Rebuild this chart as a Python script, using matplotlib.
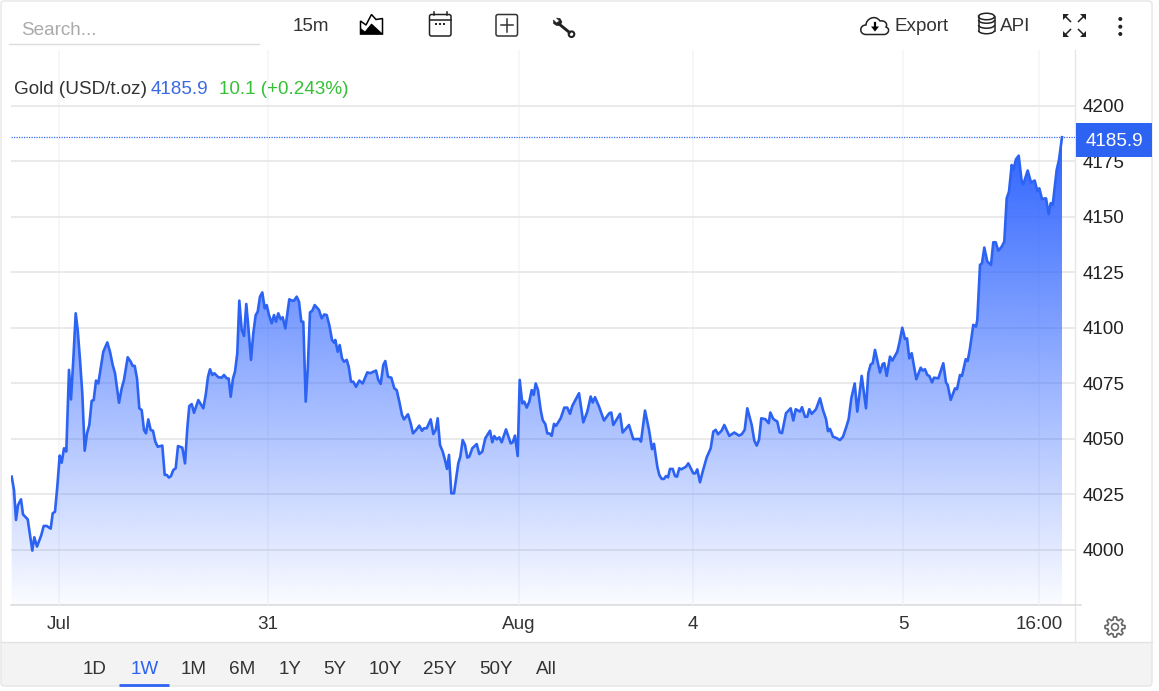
import numpy as np
import matplotlib
matplotlib.use("Agg")
import matplotlib.pyplot as plt
from matplotlib.patches import Rectangle, FancyBboxPatch, Circle, Ellipse, Polygon, PathPatch, Arc
from matplotlib.path import Path

plt.rcParams["font.family"] = ["Liberation Sans", "DejaVu Sans"]

# horizontal chart position of each traced point, and the gold price there
positions = [
    11.7, 14, 16, 18, 21, 23, 27.7, 32.3, 34.3, 37, 41.3, 43.7, 46.7, 50.7, 52.7, 55, 57.3, 59.7, 61.7, 64,
    66.3, 69, 71, 73.3, 75.7, 77.7, 80, 82.3, 84.7, 87, 89.3, 91.7, 93.7, 96, 98.3, 100.7, 103.3, 107.3, 110, 112.7,
    115, 119, 121.7, 124, 127.7, 130.7, 132.7, 134.7, 137, 139.3, 141.7, 144, 146, 148.3, 150.7, 153, 155.3, 157.7, 162.3, 164.7,
    166.7, 169, 171, 173.3, 175.7, 178, 182.3, 185, 187.3, 189.3, 191.7, 194, 198.3, 203.3, 205.7, 208, 210, 212.3, 214.3, 218.3,
    221.7, 224, 226.7, 228.7, 230.7, 233, 235, 237.3, 239.3, 241.7, 244, 246.3, 248.3, 251, 253.3, 255.7, 257.7, 260, 262.3, 264.7,
    266.7, 269, 271.7, 274, 276, 278.3, 280.7, 282.7, 285.3, 289.3, 292, 294, 296.7, 299, 301.3, 303.3, 305.7, 307.7, 310, 312.3,
    314.7, 319, 321.7, 324.3, 326.7, 329.3, 332, 334, 335.3, 337.7, 339.7, 342, 344, 346.7, 348.7, 351, 353.3, 356, 359.3, 362.7,
    367.3, 370, 376, 378.3, 380.7, 383.3, 385.3, 388, 391.3, 394.3, 396.7, 399.3, 402, 404, 408, 410.7, 413, 416, 419.3, 422,
    424, 426.7, 430.7, 433.3, 435.7, 437.7, 440, 442.7, 445, 447, 449, 451.3, 454, 458.3, 460.3, 462.7, 465, 467.3, 469.3, 472.3,
    476.7, 479.3, 482.3, 485.3, 490, 492.3, 494.3, 496.7, 499.3, 501.7, 506, 510.7, 512.7, 515, 517.7, 519.7, 522.3, 524.3, 526.7, 529.3,
    531.7, 533.7, 535.7, 538, 540.7, 542.7, 545.3, 547.3, 549.3, 551.7, 554, 556, 560.7, 564.3, 567.3, 570, 572.3, 579, 583.3, 587.3,
    590.7, 592.7, 595, 599, 604, 609.3, 611.3, 613.3, 620, 622.7, 629, 633.3, 639.3, 641, 645, 649, 652, 654, 657.3, 659.3,
    661.7, 664, 666, 668, 670, 672.7, 675, 677, 679.3, 681.3, 686, 688.3, 693.3, 695.3, 697.3, 700, 702.7, 706.7, 710.7, 713.3,
    715.7, 718, 721.7, 724.3, 729.3, 734.3, 739, 741.7, 744.7, 747.3, 751.7, 754.3, 756.7, 759, 761.3, 765.3, 768.7, 770.3, 773.3, 777.3,
    779.7, 782, 786, 790.7, 793.3, 795.7, 800, 802, 805, 807.3, 809.3, 811.7, 816, 820, 823, 826, 828, 830, 833, 836,
    840, 843, 846, 848.7, 851.3, 854.7, 857.3, 861.7, 866, 868.3, 870.7, 872.7, 875, 880, 882.7, 884.3, 886.7, 890, 892.3, 897.3,
    899.3, 902.3, 905, 907, 909.3, 911.7, 916.3, 920.7, 922.7, 925, 927.3, 929.3, 932, 934, 938.3, 943.3, 946, 947.7, 950.7, 955,
    957, 960, 962, 965.7, 967.7, 970, 973.3, 976, 977.3, 980, 982, 984.3, 987.3, 991, 993.3, 995.7, 998.3, 1001.7, 1004.3, 1006.7,
    1009, 1011.7, 1013.3, 1016, 1018.7, 1021.7, 1023.3, 1027.7, 1031, 1034.7, 1037.3, 1039.3, 1042, 1046, 1048.7, 1050.7, 1052.7, 1056.7, 1059, 1062,
]
prices = [
    4033, 4027, 4013.5, 4020.2, 4022.8, 4016, 4013.8, 3999.7, 4005.7, 4001.5, 4006.7, 4010.8, 4010.8, 4009.6, 4016.5, 4017.2, 4028.5, 4042.5, 4039.3, 4045.8,
    4044.3, 4081.1, 4067.8, 4085.6, 4106.6, 4099.1, 4085.6, 4070.5, 4044.7, 4052.5, 4056.3, 4067.2, 4067.5, 4076.3, 4075, 4081.8, 4089.3, 4093.5, 4089.3, 4083.3,
    4079.6, 4066.3, 4072.8, 4076.6, 4086.8, 4084.8, 4082.9, 4082.9, 4077.3, 4063.8, 4063, 4054, 4052.5, 4058.8, 4054, 4053.7, 4048.8, 4046.5, 4047, 4033.8,
    4033.8, 4032.6, 4033.3, 4036, 4036.8, 4046.8, 4046.1, 4039, 4054.8, 4064.8, 4065.7, 4061.8, 4067.5, 4063.8, 4069.8, 4078, 4081.4, 4078.8, 4079.6, 4077.8,
    4077.6, 4078.8, 4077.3, 4077.2, 4069, 4077.3, 4080.3, 4088.6, 4112.3, 4099.1, 4096.4, 4110.8, 4100.6, 4085.6, 4097.6, 4105.8, 4107.3, 4114.1, 4116, 4108.8,
    4110.3, 4105.8, 4102.1, 4105.8, 4102.8, 4106.6, 4103.9, 4104.8, 4099.8, 4112.9, 4112.3, 4112.3, 4114.1, 4111.8, 4102.8, 4102.8, 4066.8, 4081.1, 4107, 4107.8,
    4110.3, 4108.1, 4104.3, 4106.1, 4105.8, 4101.3, 4094.6, 4093.4, 4094.6, 4089.3, 4092.3, 4086.3, 4084.8, 4085.6, 4082.6, 4075.8, 4075.8, 4073.5, 4076.3, 4075,
    4080, 4079.6, 4080.8, 4076.6, 4074.8, 4083.3, 4085.1, 4078, 4077.6, 4072.8, 4072, 4066.8, 4060.8, 4058.8, 4061.1, 4057, 4052.5, 4054, 4056, 4053.7,
    4054.8, 4054.8, 4058.8, 4052.2, 4054, 4059.3, 4047.3, 4044.3, 4040.5, 4036.5, 4042.8, 4025.5, 4025.5, 4039, 4042, 4049.5, 4047.3, 4041.6, 4042, 4045.8,
    4047.7, 4043.2, 4044.3, 4050.3, 4053.7, 4048.5, 4051.3, 4049.8, 4050.7, 4048.5, 4054.3, 4048, 4048.5, 4051.5, 4042.3, 4076.6, 4066, 4066.8, 4064.1, 4066.8,
    4072, 4069.8, 4075, 4072, 4063, 4058.5, 4056.7, 4052.5, 4052.5, 4051.4, 4056.8, 4055.9, 4059.3, 4064.1, 4064.1, 4061.3, 4064.9, 4070.6, 4057.5, 4062.3,
    4069.1, 4066.4, 4068.8, 4064.6, 4058.3, 4061.6, 4061.9, 4056.3, 4061.3, 4052.9, 4056.3, 4049.9, 4050, 4048.8, 4062.8, 4054.1, 4045.4, 4047.8, 4037.5, 4033.8,
    4032, 4032, 4033.3, 4032.7, 4036.5, 4036.5, 4033.3, 4033, 4036.8, 4036.3, 4037.5, 4039, 4034.5, 4034.5, 4036.3, 4030.5, 4035.3, 4041.7, 4045.8, 4053.3,
    4054.1, 4052.1, 4053.8, 4056.3, 4051.4, 4052.9, 4051.5, 4052.1, 4054.1, 4063.8, 4056.3, 4049.3, 4047, 4049.6, 4059.3, 4058.9, 4057.1, 4061.9, 4059, 4057.8,
    4053, 4052.6, 4061.6, 4063.8, 4058.3, 4063.4, 4062.3, 4064.3, 4060, 4060, 4063.4, 4061.3, 4063.4, 4068.3, 4063, 4059, 4053.5, 4054.5, 4051, 4050.5,
    4049.5, 4051, 4055, 4059, 4068.3, 4075, 4062.3, 4078.4, 4063.8, 4079.6, 4083.6, 4084.1, 4090.1, 4079.9, 4083.8, 4084.1, 4078.4, 4087.1, 4085.3, 4089.3,
    4093.1, 4100.1, 4095, 4095.3, 4086.3, 4088.6, 4076.9, 4082.1, 4080.8, 4081.4, 4078.8, 4078.4, 4075.5, 4077.6, 4077.3, 4084.1, 4075.4, 4074.3, 4067.6, 4072.8,
    4072.4, 4078.8, 4078.4, 4085.9, 4085.1, 4090.9, 4101.4, 4100.6, 4103.6, 4128.4, 4129.1, 4136.2, 4129.9, 4128.4, 4138.6, 4138.6, 4134.8, 4136.6, 4138.9, 4158.4,
    4161.4, 4173.4, 4171.2, 4176, 4177.6, 4165.9, 4164.7, 4170.9, 4165.5, 4166.4, 4161.7, 4162.9, 4158.1, 4158.4, 4151.2, 4156.2, 4155.4, 4171.2, 4175.7, 4185.9,
]
y_ticks = [4000, 4025, 4050, 4075, 4100, 4125, 4150, 4175, 4200]
x_ticks = [59, 268, 519, 693, 903, 1039]
x_labels = ["Jul", "31", "Aug", "4", "5", "16:00"]
ranges = ["1D", "1W", "1M", "6M", "1Y", "5Y", "10Y", "25Y", "50Y", "All"]
range_centers = [95, 145, 194, 242, 290, 335, 385, 440, 496, 546]
last_price = 4185.9

W, H = 1159, 691
BLUE = "#2d63f2"
INK = "#333333"
FS = 13.6

fig = plt.figure(figsize=(W / 100, H / 100), dpi=100, facecolor="white")

# page furniture goes on a pixel axes behind the chart
bg = fig.add_axes([0, 0, 1, 1], zorder=0)
bg.set_xlim(0, W)
bg.set_ylim(H, 0)
bg.axis("off")
bg.add_patch(Rectangle((1, 642), 1151, 44, fc="#f3f3f3", ec="none"))
bg.add_patch(FancyBboxPatch((1, 1), 1151, 685, boxstyle="round,pad=0,rounding_size=3",
                            fc="none", ec="#e6e6e6", lw=1))
bg.plot([1, 1152], [642, 642], color="#e2e2e2", lw=1)
bg.plot([1075, 1075], [50, 642], color="#e6e6e6", lw=1)
bg.plot([11, 1081], [605, 605], color="#dddddd", lw=1.2)

L, R, T, B = 11, 1075, 50, 605
ax = fig.add_axes([L / W, 1 - B / H, (R - L) / W, (B - T) / H], zorder=1)
ax.patch.set_alpha(0)
ax.set_xlim(L, R)
ax.set_ylim(3975.2, 4225.2)
for s in ax.spines.values():
    s.set_visible(False)

ax.set_yticks(y_ticks)
ax.yaxis.tick_right()
ax.tick_params(axis="y", length=0, pad=5.5, labelsize=FS, labelcolor="#222222")
ax.set_xticks(x_ticks)
ax.set_xticklabels(x_labels)
ax.tick_params(axis="x", length=0, pad=8, labelsize=FS, labelcolor=INK)
ax.grid(axis="y", color="#e8e8e8", lw=1.3)
ax.grid(axis="x", color="#f3f5f9", lw=1.1)
ax.set_axisbelow(True)

# gradient under the line
grad = np.zeros((256, 1, 4))
grad[:, 0, 0] = 0x2d / 255
grad[:, 0, 1] = 0x63 / 255
grad[:, 0, 2] = 1.0
grad[:, 0, 3] = np.linspace(1.0, 0.02, 256)
img = ax.imshow(grad, extent=(L, R, 3975.2, last_price), origin="upper", aspect="auto", zorder=2)
edge = list(zip(positions, prices)) + [(positions[-1], 3975.2), (positions[0], 3975.2)]
clip = Polygon(edge, closed=True, transform=ax.transData, fc="none", ec="none")
ax.add_patch(clip)
img.set_clip_path(clip)
ax.set_xlim(L, R)
ax.set_ylim(3975.2, 4225.2)

ax.plot(positions, prices, color=BLUE, lw=1.9, zorder=3, solid_joinstyle="round")
ax.axhline(last_price, color="#3a6cf4", lw=0.9, ls=(0, (1, 1)), zorder=3)

# toolbar, legend line, price tag and footer on top
ov = fig.add_axes([0, 0, 1, 1], zorder=2)
ov.set_xlim(0, W)
ov.set_ylim(H, 0)
ov.axis("off")
ov.patch.set_alpha(0)


def label(x, y, s, color=INK, ha="left"):
    ov.text(x, y, s, color=color, fontsize=FS, ha=ha, va="center")


label(21, 30.5, "Search...", color="#aaaaaa")
ov.plot([9, 259], [44, 44], color="#dcdcdc", lw=1)
label(293, 26, "15m")
label(14, 89.5, "Gold (USD/t.oz)")
label(151, 89.5, "4185.9", color="#3b6ae0")
label(219, 89.5, "10.1 (+0.243%)", color="#35c035")
label(894, 26, "Export")
label(1000, 26, "API")

ov.add_patch(Rectangle((1076, 123), 76, 34, fc=BLUE, ec="none"))
label(1114, 141, "4185.9", color="white", ha="center")

for name, cx in zip(ranges, range_centers):
    label(cx, 669.5, name, color=BLUE if name == "1W" else INK, ha="center")
ov.plot([119, 169], [684.5, 684.5], color=BLUE, lw=2, solid_capstyle="butt")

# area-chart icon
ov.add_patch(Polygon([(360.5, 21), (366, 25), (371.5, 14.5), (376, 19.5), (382.5, 18.5), (382.5, 34), (360.5, 34)],
                     closed=True, fc="none", ec="black", lw=1.1))
ov.add_patch(Polygon([(360.5, 34), (360.5, 28.5), (365, 32), (371.5, 24), (378, 30), (382.5, 34)],
                     closed=True, fc="black", ec="black", lw=0.6))

# calendar icon
ov.add_patch(FancyBboxPatch((429.5, 14.5), 21.5, 21.5, boxstyle="round,pad=0,rounding_size=2",
                            fc="none", ec="#222222", lw=1.1))
ov.plot([429.5, 451], [20, 20], color="#222222", lw=1.1)
for tx in (433.5, 447):
    ov.plot([tx, tx], [12, 15], color="#222222", lw=1.1)
for dx in (436, 440, 444):
    ov.add_patch(Rectangle((dx - 1.1, 23.2), 2.2, 2.2, fc="#222222", ec="none"))

# crosshair box icon
ov.add_patch(FancyBboxPatch((496, 14.5), 21.5, 21.5, boxstyle="round,pad=0,rounding_size=2",
                            fc="none", ec="#333333", lw=1.1))
ov.plot([506.7, 506.7], [19, 31.5], color="#333333", lw=1.1)
ov.plot([500.5, 513], [25.2, 25.2], color="#333333", lw=1.1)

# wrench icon
ov.plot([558.5, 569.5], [23.5, 32.5], color="#222222", lw=2.1, solid_capstyle="round")
ov.add_patch(Circle((571.5, 34.2), 2.8, fc="white", ec="#222222", lw=1.5))
ov.add_patch(Polygon([(553.5, 20), (556.5, 23), (559.5, 21), (556.5, 18), (560, 18.5), (562, 22), (560, 25.5),
                      (556.5, 25.5), (553.5, 23.5)], closed=True, fc="#222222", ec="#222222", lw=0.4))

# cloud download icon
cloud = Path([(866, 34.5), (859, 34.5), (859, 25), (866, 25), (866, 19), (875, 14), (880, 21),
              (885, 20), (888, 24), (886, 27), (891, 29), (888, 34.5), (884, 34.5), (866, 34.5)],
             [Path.MOVETO, Path.CURVE4, Path.CURVE4, Path.CURVE4, Path.CURVE4, Path.CURVE4, Path.CURVE4,
              Path.CURVE4, Path.CURVE4, Path.CURVE4, Path.CURVE4, Path.CURVE4, Path.CURVE4, Path.LINETO])
ov.add_patch(PathPatch(cloud, fc="none", ec="#222222", lw=1.1))
ov.plot([875, 875], [22.5, 29], color="black", lw=1.6)
ov.add_patch(Polygon([(871, 26.5), (879, 26.5), (875, 31.5)], closed=True, fc="black", ec="none"))

# database icon
ov.add_patch(Ellipse((986.5, 16.5), 16, 6.5, fc="none", ec="#222222", lw=1.1))
ov.plot([978.5, 978.5], [16.5, 30.5], color="#222222", lw=1.1)
ov.plot([994.5, 994.5], [16.5, 30.5], color="#222222", lw=1.1)
for cy in (20, 25, 30.5):
    ov.add_patch(Arc((986.5, cy), 16, 6.5, theta1=0, theta2=180, color="#222222", lw=1.1))

# expand arrows icon
for sx, sy in ((-1, -1), (1, -1), (-1, 1), (1, 1)):
    cx, cy = 1074.5, 25.5
    ov.plot([cx + sx * 4, cx + sx * 9.5], [cy + sy * 4, cy + sy * 9.5], color="#222222", lw=1.1)
    ov.add_patch(Polygon([(cx + sx * 11.5, cy + sy * 11.5), (cx + sx * 5.5, cy + sy * 11.5), (cx + sx * 11.5, cy + sy * 5.5)],
                         closed=True, fc="#222222", ec="none"))

# kebab menu
for ky in (19, 26.7, 34):
    ov.add_patch(Circle((1120.3, ky), 2, fc="#222222", ec="none"))

# settings gear
angles = np.linspace(0, 2 * np.pi, 321)
radius = 8.7 + 1.3 * np.clip(np.cos(angles * 8) * 2.5, -1, 1)
ov.add_patch(Polygon(np.c_[1115 + radius * np.cos(angles), 627 + radius * np.sin(angles)],
                     closed=True, fc="none", ec="#666666", lw=1.2))
ov.add_patch(Circle((1115, 627), 3.4, fc="none", ec="#666666", lw=1.2))

fig.savefig("out.png", dpi=100)
